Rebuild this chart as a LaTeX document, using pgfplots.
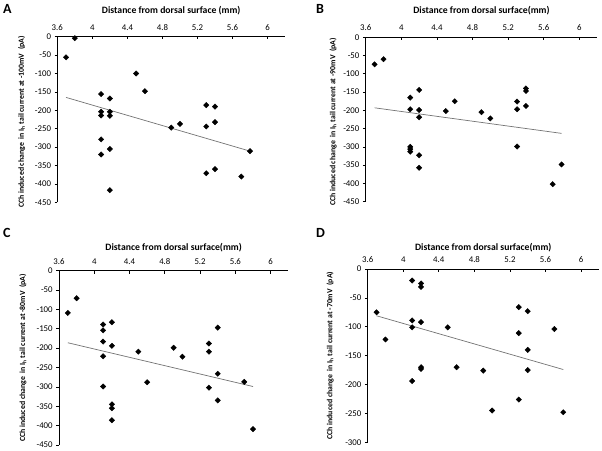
\documentclass[border=0pt]{standalone}
\usepackage{fontspec}
\setmainfont{Carlito}
\usepackage{pgfplots}
\pgfplotsset{compat=1.18}
\begin{document}
\begin{tikzpicture}[x=1pt,y=1pt]
\useasboundingbox (0pt,0pt) rectangle (602pt,450pt);
\pgfplotsset{
 panel/.style={
  scale only axis, xmin=3.6, xmax=6.2, ymax=0,
  axis x line*=top, axis y line*=left,
  axis line style={line width=0.9pt, -},
  xtick={3.6,4,4.4,4.8,5.2,5.6,6},
  tick align=outside, major tick length=2.8pt,
  tick style={black, line width=0.7pt},
  x tick style={yshift=-2.8pt},
  tick label style={font=\fontsize{8.8}{10}\selectfont},
  /pgf/number format/assume math mode=true,
  xlabel style={font=\bfseries\fontsize{9.7}{11}\selectfont, at={(axis description cs:0.5,1)}, anchor=center},
  ylabel style={font=\bfseries\fontsize{7.8}{9}\selectfont, anchor=center},
  clip=false,
 },
 pts/.style={only marks, mark=square*, mark size=1.9pt, mark options={rotate=45, black, fill=black}},
 trend/.style={no marks, color=black!55, line width=0.7pt},
}
% Panel A
\begin{axis}[panel, at={(57.3pt,247.7pt)}, anchor=south west, width=227.8pt, height=165.6pt,
  ymin=-450, ytick={-450,-400,-350,-300,-250,-200,-150,-100,-50,0},
  xlabel={Distance from dorsal surface (mm)}, xlabel style={yshift=26.5pt},
  ylabel={CCh induced change~ in I\textsubscript{h} tail current at -100mV~ (pA)},
  ylabel style={at={(axis description cs:-0.157,0.485)}}]
\addplot[pts] coordinates {
(3.7,-56) (3.8,-4) (4.1,-156) (4.1,-204) (4.1,-214) (4.1,-279) (4.1,-320)
(4.2,-168) (4.2,-204) (4.2,-215) (4.2,-305) (4.2,-417)
(4.5,-100) (4.6,-148) (4.9,-247) (5.0,-237)
(5.3,-186) (5.3,-244) (5.3,-371) (5.4,-190) (5.4,-232) (5.4,-360)
(5.7,-380) (5.8,-311)};
\addplot[trend] coordinates {(3.7,-165) (5.8,-311)};
\end{axis}
% Panel B
\begin{axis}[panel, at={(365.7pt,248.3pt)}, anchor=south west, width=231.5pt, height=164.4pt,
  ymin=-450, ytick={-450,-400,-350,-300,-250,-200,-150,-100,-50,0},
  xlabel={Distance from dorsal surface(mm)}, xlabel style={yshift=27pt},
  ylabel={CCh induced change~ in I\textsubscript{h} tail current at -90mV~ (pA)},
  ylabel style={at={(axis description cs:-0.141,0.485)}}]
\addplot[pts] coordinates {
(3.7,-74) (3.8,-60) (4.1,-165) (4.1,-197) (4.1,-300) (4.1,-306) (4.1,-313)
(4.2,-144) (4.2,-199) (4.2,-219) (4.2,-323) (4.2,-357)
(4.5,-202) (4.6,-175) (4.9,-205) (5.0,-222)
(5.3,-176) (5.3,-197) (5.3,-299) (5.4,-140) (5.4,-147) (5.4,-188)
(5.7,-402) (5.8,-348)};
\addplot[trend] coordinates {(3.7,-193) (5.8,-263)};
\end{axis}
% Panel C
\begin{axis}[panel, at={(59pt,5pt)}, anchor=south west, width=229.3pt, height=174.3pt,
  ymin=-450, ytick={-450,-400,-350,-300,-250,-200,-150,-100,-50,0},
  xlabel={Distance from dorsal surface(mm)}, xlabel style={yshift=23pt},
  ylabel={CCh induced change~ in I\textsubscript{h} tail current at -80mV~ (pA)},
  ylabel style={at={(axis description cs:-0.157,0.5)}}]
\addplot[pts] coordinates {
(3.7,-109) (3.8,-71) (4.1,-139) (4.1,-154) (4.1,-183) (4.1,-221) (4.1,-299)
(4.2,-133) (4.2,-194) (4.2,-345) (4.2,-355) (4.2,-386)
(4.5,-209) (4.6,-288) (4.9,-199) (5.0,-222)
(5.3,-188) (5.3,-209) (5.3,-302) (5.4,-147) (5.4,-266) (5.4,-335)
(5.7,-287) (5.8,-409)};
\addplot[trend] coordinates {(3.7,-186) (5.8,-299)};
\end{axis}
% Panel D
\begin{axis}[panel, at={(367.7pt,7.7pt)}, anchor=south west, width=231.1pt, height=173.3pt,
  ymin=-300, ytick={-300,-250,-200,-150,-100,-50,0},
  xlabel={Distance from dorsal surface(mm)}, xlabel style={yshift=21.5pt},
  ylabel={CCh induced change~ in I\textsubscript{h} tail current at -70mV~ (pA)},
  ylabel style={at={(axis description cs:-0.163,0.5)}}]
\addplot[pts] coordinates {
(3.7,-75) (3.8,-122) (4.1,-20) (4.1,-89) (4.1,-101) (4.1,-194)
(4.2,-25) (4.2,-31) (4.2,-92) (4.2,-170) (4.2,-173)
(4.5,-101) (4.6,-170) (4.9,-176) (5.0,-245)
(5.3,-66) (5.3,-111) (5.3,-226) (5.4,-73) (5.4,-140) (5.4,-175)
(5.7,-104) (5.8,-248)};
\addplot[trend] coordinates {(3.7,-81) (5.8,-174)};
\end{axis}
\node[anchor=north west, font=\bfseries\fontsize{14}{16}\selectfont, inner sep=0pt] at (3pt,446pt) {A};
\node[anchor=north west, font=\bfseries\fontsize{14}{16}\selectfont, inner sep=0pt] at (316pt,446pt) {B};
\node[anchor=north west, font=\bfseries\fontsize{14}{16}\selectfont, inner sep=0pt] at (3pt,222pt) {C};
\node[anchor=north west, font=\bfseries\fontsize{14}{16}\selectfont, inner sep=0pt] at (316pt,222pt) {D};
\end{tikzpicture}
\end{document}
